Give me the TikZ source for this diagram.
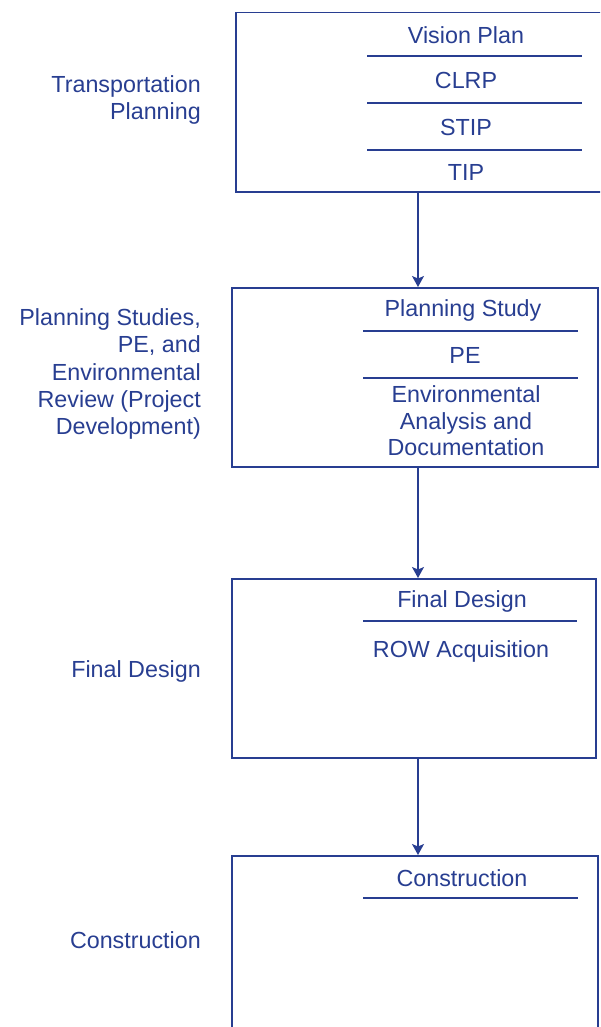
\documentclass[tikz,border=0pt]{standalone}
\usepackage{fontspec}
\setmainfont{Liberation Sans}
\usepackage{xcolor}
\usetikzlibrary{positioning}
\usetikzlibrary{arrows.meta}
\usetikzlibrary{math}

\definecolor{planblue}{RGB}{40,62,145}

\tikzset{
  stage/.style={draw=planblue, line width=1.5pt, rectangle, inner sep=0pt,
    anchor=north west, minimum height=179pt},
  phase/.style={text=planblue, anchor=east, align=right, inner sep=0pt},
  item/.style={text=planblue, align=center, inner sep=0pt},
  rule/.style={draw=planblue, line width=1.5pt},
  flow/.style={draw=planblue, line width=1.4pt,
    -{Stealth[length=11pt,width=12pt,inset=2.5pt]}},
}

\begin{document}
\begin{tikzpicture}[x=1pt,y=1pt,font=\fontsize{23.3}{26.5}\selectfont]

  \tikzmath{
    \lx = 201; % right edge of the phase labels
    \ra = 367; % left end of the rules
    \rb = 580; % right end of the rules
  }

  \useasboundingbox (0,0) rectangle (600,-1027);
  \clip (0,0) rectangle (600,-1027);

  % the four stages
  \node[stage, minimum width=380pt] (tp) at (235,-12) {};
  \node[stage, minimum width=366pt] (ps) at (231,-287) {};
  \node[stage, minimum width=364pt] (fd) at (231,-578) {};
  \node[stage, minimum width=366pt] (co) at (231,-855) {};

  % phase labels on the left
  \node[phase] (tpl) at (\lx,-100) {Transportation\\Planning};
  \node[phase, font=\fontsize{23.3}{27.2}\selectfont] (psl) at (\lx,-374)
    {Planning Studies,\\PE, and\\Environmental\\Review (Project\\Development)};
  \node[phase] (fdl) at (\lx,-671) {Final Design};
  \node[phase] (col) at (\lx,-940) {Construction};

  % Transportation Planning
  \node[item] (vision) at (466,-35)  {Vision Plan};
  \node[item] (clrp)   at (466,-80)  {CLRP};
  \node[item] (stip)   at (466,-127) {STIP};
  \node[item] (tip)    at (466,-172) {TIP};
  \draw[rule] (\ra,-56)  -- (\rb+2,-56);
  \draw[rule] (\ra,-103) -- (\rb+2,-103);
  \draw[rule] (\ra,-150) -- (\rb+2,-150);

  % Project development
  \node[item] (study) at (463,-310) {Planning Study};
  \node[item] (pe)    at (465,-355) {PE};
  \node[item] (env)   at (466,-421) {Environmental\\Analysis and\\Documentation};
  \draw[rule] (\ra-4,-331) -- (\rb-2,-331);
  \draw[rule] (\ra-4,-378) -- (\rb-2,-378);

  % Final design
  \node[item] (design) at (462,-601) {Final Design};
  \node[item] (row)    at (461,-651) {ROW Acquisition};
  \draw[rule] (\ra-4,-621) -- (\rb-3,-621);

  % Construction
  \node[item] (build) at (462,-878) {Construction};
  \draw[rule] (\ra-4,-898) -- (\rb-2,-898);

  % flow between the stages
  \coordinate (axis) at (418,0);
  \draw[flow] (tp.south -| axis) -- (ps.north -| axis);
  \draw[flow] (ps.south -| axis) -- (fd.north -| axis);
  \draw[flow] (fd.south -| axis) -- (co.north -| axis);

\end{tikzpicture}
\end{document}
